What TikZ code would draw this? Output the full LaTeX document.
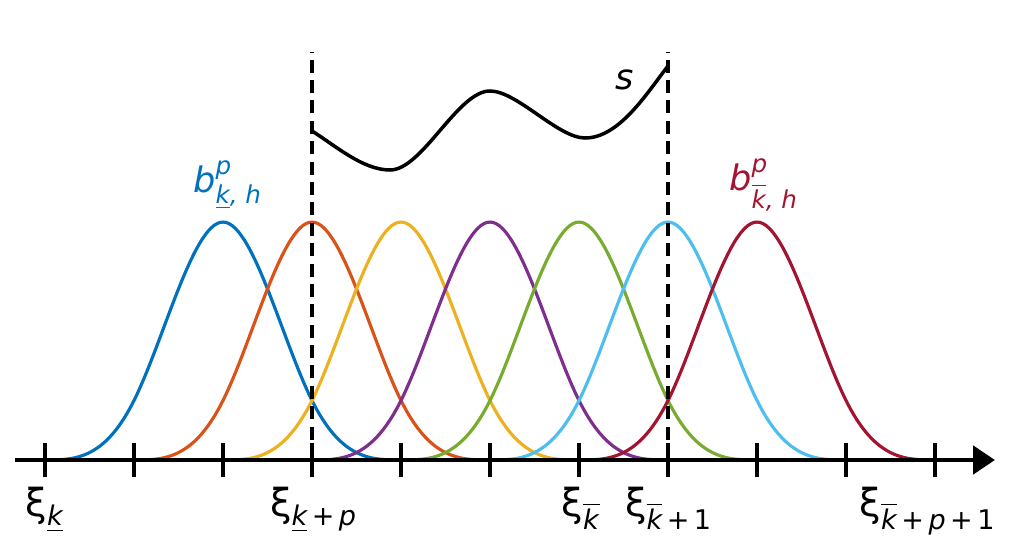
\documentclass[tikz,border=0pt]{standalone}
\usepackage{amsmath}
\usepackage{fontspec}
\setmainfont{DejaVu Sans}
\usepackage{tikz}
\usetikzlibrary{arrows.meta}
\definecolor{mblue}{RGB}{0,114,189}
\definecolor{morange}{RGB}{217,83,25}
\definecolor{myellow}{RGB}{237,177,32}
\definecolor{mpurple}{RGB}{126,47,142}
\definecolor{mgreen}{RGB}{119,172,48}
\definecolor{mcyan}{RGB}{77,190,238}
\definecolor{mred}{RGB}{162,20,47}
\tikzset{
  basis/.style={line width=0.9pt, smooth, samples=60},
  knotline/.style={black, line width=1.1pt, dash pattern=on 3.7pt off 2.1pt},
  axisline/.style={black, line width=1.4pt, -{Triangle[length=0.22cm,width=0.28cm]}},
  tickmark/.style={black, line width=1.1pt},
  knotlabel/.style={anchor=base, font=\fontsize{11}{13}\selectfont},
  curvelabel/.style={font=\fontsize{10}{12}\selectfont}
}
\begin{document}
\begin{tikzpicture}[x=1cm, y=1cm,
  declare function={bsp(\t)=(abs(\t)<1) ? (2/3-\t*\t+abs(\t)^3/2) : ((abs(\t)<2) ? ((2-abs(\t))^3/6) : 0);}]
  \useasboundingbox (-0.45,-0.97) rectangle (9.77,4.60);

  % Basis functions
  \foreach \c/\col in {2/mblue, 3/morange, 4/myellow, 5/mpurple, 6/mgreen, 7/mcyan, 8/mred}{
    \draw[basis, \col, domain=\c-2:\c+2, variable=\u]
      plot ({0.89*\u}, {3.57*bsp(\u-\c)});
  }

  % Knot lines of the element
  \coordinate (left) at (2.67,0);
  \coordinate (right) at (6.23,0);
  \draw[knotline] (left) -- ++(0,4.08);
  \draw[knotline] (right) -- ++(0,4.08);

  % Function s
  \draw[black, line width=1pt] (2.67,3.29) to[out=-32,in=180,looseness=0.8] (3.45,2.90)
    to[out=0,in=180,looseness=0.65] (4.45,3.69) to[out=0,in=180,looseness=0.65] (5.40,3.22)
    to[out=0,in=-128,looseness=0.8] (6.23,3.94);
  \node[curvelabel] (slab) at (5.80,3.80) {\itshape s};

  % Axis and ticks
  \draw[axisline] (-0.30,0) -- (9.50,0);
  \foreach \i in {0,...,10}{
    \draw[tickmark] ({0.89*\i},-0.17) -- ({0.89*\i},0.17);
  }

  % Labels
  \node[curvelabel, mblue] (blow) at (1.83,2.75)
    {$\text{\itshape b}^{\text{\itshape p}}_{\text{\itshape\underline{k}, h}}$};
  \node[curvelabel, mred] (bhigh) at (7.19,2.75)
    {$\text{\itshape b}^{\text{\itshape p}}_{\overline{\text{\itshape k}}\text{\itshape, h}}$};

  \node[knotlabel] (x0) at (0,-0.56)
    {$\text{ξ}_{\text{\itshape\underline{k}}}$};
  \node[knotlabel] (x3) at (2.69,-0.56)
    {$\text{ξ}_{\text{\itshape\underline{k}\,+\,p}}$};
  \node[knotlabel] (x6) at (5.36,-0.56)
    {$\text{ξ}_{\overline{\text{\itshape k}}}$};
  \node[knotlabel] (x7) at (6.24,-0.56)
    {$\text{ξ}_{\overline{\text{\itshape k}}\text{\,+\,1}}$};
  \node[knotlabel] (x10) at (8.83,-0.56)
    {$\text{ξ}_{\overline{\text{\itshape k}}\text{\,+\,\itshape p\upshape\,+\,1}}$};
\end{tikzpicture}
\end{document}
